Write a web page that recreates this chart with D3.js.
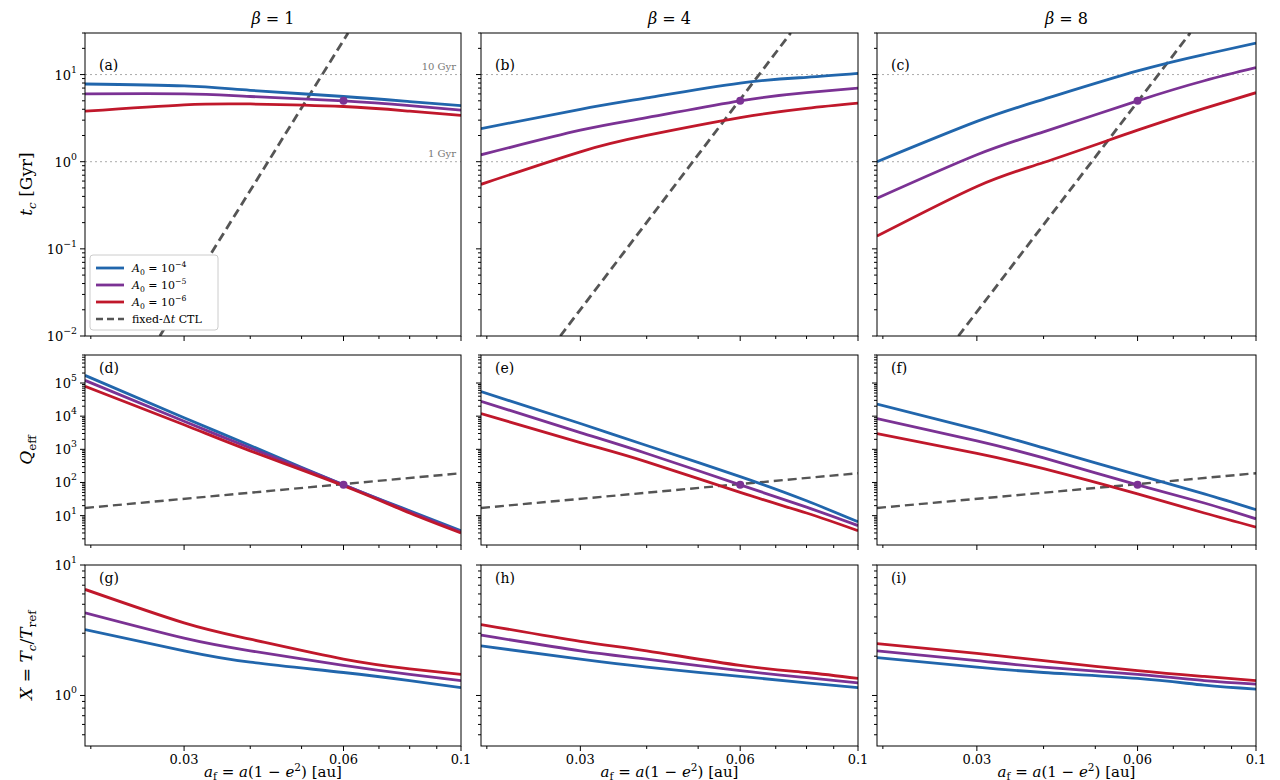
<!DOCTYPE html><html><head><meta charset="utf-8">
<script src="https://cdn.jsdelivr.net/npm/d3@7"></script>
<style>body{margin:0;background:#fff}text{font-family:"DejaVu Serif","Liberation Serif",serif}</style></head><body>
<svg id="c" width="1280" height="780"></svg>
<script>
const xs=[0.0195,0.03,0.04,0.06,0.08,0.1];
const betas=["1","4","8"];
const panelLetters=[["(a)","(b)","(c)"],["(d)","(e)","(f)"],["(g)","(h)","(i)"]];
// row 1: t_c [Gyr]
const tc={blue:[[7.8,7.4,6.6,5.6,4.9,4.4],[2.4,4.0,5.4,8.0,9.3,10.3],[1.0,2.9,5.2,11,17,23]],
 purple:[[6.0,6.0,5.6,5.0,4.4,3.9],[1.2,2.3,3.2,5.0,6.2,7.0],[0.38,1.2,2.2,5.0,8.5,12]],
 red:[[3.8,4.5,4.6,4.3,3.8,3.4],[0.55,1.3,2.0,3.2,4.1,4.7],[0.14,0.52,0.98,2.3,4.1,6.2]]};
const ctlA=[[0.027,0.0612],[0.0275,0.0747],[0.0277,0.0753]];
const ctlT=[0.01,30];
// row 2: Q_eff
const qe={blue:[[1.7e5,9000,1300,85,14,3.5],[5.5e4,6000,1300,150,28,6.5],[2.3e4,4000,1100,170,45,15]],
 purple:[[1.2e5,7000,1100,85,13,3.2],[2.8e4,3200,750,85,18,5],[8500,1800,550,85,24,8]],
 red:[[8e4,5500,900,80,12,3],[1.2e4,1600,420,50,12,3.5],[3000,750,260,45,12,4.5]]};
const ctlQ=[17,190];
// row 3: X = T_c/T_ref
const xr={blue:[[3.2,2.2,1.8,1.5,1.3,1.15],[2.4,1.9,1.65,1.4,1.25,1.15],[1.95,1.65,1.5,1.35,1.2,1.12]],
 purple:[[4.3,2.75,2.2,1.7,1.45,1.3],[2.9,2.2,1.9,1.55,1.37,1.25],[2.2,1.85,1.65,1.45,1.3,1.22]],
 red:[[6.5,3.6,2.7,1.9,1.6,1.45],[3.5,2.6,2.2,1.7,1.5,1.35],[2.5,2.1,1.85,1.55,1.4,1.3]]};
const colors={blue:"#2166ac",purple:"#7b3294",red:"#c0182b"};
const legendLabels=[["blue","−4"],["purple","−5"],["red","−6"]];

const svg=d3.select("#c");
const colX=[[85,461],[481,858],[877,1256]];
const rowY=[[33,336],[355,545],[565,746]];
const yDom=[[0.01,30],[1.3,7e5],[0.41,10]];
const line=(x,y)=>d3.line().x(d=>x(d[0])).y(d=>y(d[1])).curve(d3.curveNatural);
function sup(t,base,exp){t.append("tspan").text(base);t.append("tspan").attr("dy",-7).attr("font-size","0.72em").text(exp);}
for(let r=0;r<3;r++)for(let c=0;c<3;c++){
 const [x0,x1]=colX[c],[y0,y1]=rowY[r];
 const x=d3.scaleLog().domain([0.0195,0.1]).range([x0,x1]);
 const y=d3.scaleLog().domain(yDom[r]).range([y1,y0]);
 const g=svg.append("g");
 const clipId=`cl${r}${c}`;
 g.append("clipPath").attr("id",clipId).append("rect").attr("x",x0).attr("y",y0).attr("width",x1-x0).attr("height",y1-y0);
 const p=g.append("g").attr("clip-path",`url(#${clipId})`);
 const xMaj=[0.03,0.06,0.1], xMin=[0.02,0.04,0.05,0.07,0.08,0.09];
 xMaj.forEach(v=>g.append("line").attr("x1",x(v)).attr("x2",x(v)).attr("y1",y1).attr("y2",y1+5).attr("stroke","#000"));
 xMin.forEach(v=>g.append("line").attr("x1",x(v)).attr("x2",x(v)).attr("y1",y1).attr("y2",y1+3).attr("stroke","#000"));
 if(r==2){xMaj.forEach(v=>g.append("text").attr("x",x(v)).attr("y",y1+18).attr("text-anchor","middle").attr("font-size",13).text(v));
  const t=g.append("text").attr("x",(x0+x1)/2).attr("y",y1+31).attr("text-anchor","middle").attr("font-size",15);
  t.append("tspan").attr("font-style","italic").text("a");t.append("tspan").attr("font-size","0.7em").attr("dy",3).text("f");
  t.append("tspan").attr("dy",-3).text(" = ");t.append("tspan").attr("font-style","italic").text("a");t.append("tspan").text("(1 − ");
  t.append("tspan").attr("font-style","italic").text("e");t.append("tspan").attr("dy",-6).attr("font-size","0.7em").text("2");t.append("tspan").attr("dy",6).text(") [au]");}
 const [lo,hi]=yDom[r];
 for(let e=Math.floor(Math.log10(lo));e<=Math.ceil(Math.log10(hi));e++){
  for(let m=1;m<10;m++){const v=m*Math.pow(10,e); if(v<lo*0.999||v>hi*1.001)continue;
   g.append("line").attr("x1",x0).attr("x2",x0-(m==1?5:3)).attr("y1",y(v)).attr("y2",y(v)).attr("stroke","#000");
   if(m==1&&c==0){const t=g.append("text").attr("x",x0-8).attr("y",y(v)+5).attr("text-anchor","end").attr("font-size",13);sup(t,"10",e<0?"−"+(-e):String(e));}}
 }
 if(r==0){[10,1].forEach(v=>p.append("line").attr("x1",x0).attr("x2",x1).attr("y1",y(v)).attr("y2",y(v)).attr("stroke","#aaa").attr("stroke-dasharray","2,3"));
  if(c==0){g.append("text").attr("x",x1-5).attr("y",y(10)-5).attr("text-anchor","end").attr("font-size",10).attr("fill","#777").text("10 Gyr");
   g.append("text").attr("x",x1-5).attr("y",y(1)-5).attr("text-anchor","end").attr("font-size",10).attr("fill","#777").text("1 Gyr");}
  p.append("path").datum(ctlA[c].map((a,i)=>[a,ctlT[i]])).attr("d",d3.line().x(d=>x(d[0])).y(d=>y(d[1]))).attr("fill","none").attr("stroke","#555").attr("stroke-width",2.8).attr("stroke-dasharray","9,5");
 }
 if(r==1){p.append("path").datum([[0.0195,ctlQ[0]],[0.1,ctlQ[1]]]).attr("d",d3.line().x(d=>x(d[0])).y(d=>y(d[1]))).attr("fill","none").attr("stroke","#555").attr("stroke-width",2.4).attr("stroke-dasharray","9,5");}
 const src=[tc,qe,xr][r];
 ["blue","purple","red"].forEach(k=>p.append("path").datum(xs.map((a,i)=>[a,src[k][c][i]])).attr("d",line(x,y)).attr("fill","none").attr("stroke",colors[k]).attr("stroke-width",2.8));
 if(r<2) p.append("circle").attr("cx",x(0.06)).attr("cy",y(src.purple[c][3])).attr("r",4).attr("fill",colors.purple);
 g.append("rect").attr("x",x0).attr("y",y0).attr("width",x1-x0).attr("height",y1-y0).attr("fill","none").attr("stroke","#000");
 g.append("text").attr("x",x0+14).attr("y",y0+(r==0?37:18)).attr("font-size",14).text(panelLetters[r][c]);
 if(r==0){const t=svg.append("text").attr("x",(x0+x1)/2).attr("y",24).attr("text-anchor","middle").attr("font-size",16);
  t.append("tspan").attr("font-style","italic").text("β");t.append("tspan").text(" = "+betas[c]);}
}
function ylab(yc,build){const t=svg.append("text").attr("transform",`translate(32,${yc}) rotate(-90)`).attr("text-anchor","middle").attr("font-size",17);build(t);}
ylab(184,t=>{t.append("tspan").attr("font-style","italic").text("t");t.append("tspan").attr("font-size","0.7em").attr("dy",4).attr("font-style","italic").text("c");t.append("tspan").attr("dy",-4).text(" [Gyr]");});
ylab(450,t=>{t.append("tspan").attr("font-style","italic").text("Q");t.append("tspan").attr("font-size","0.7em").attr("dy",4).text("eff");});
ylab(655,t=>{t.append("tspan").attr("font-style","italic").text("X");t.append("tspan").text(" = ");t.append("tspan").attr("font-style","italic").text("T");t.append("tspan").attr("font-size","0.7em").attr("dy",4).attr("font-style","italic").text("c");t.append("tspan").attr("dy",-4).text("/");t.append("tspan").attr("font-style","italic").text("T");t.append("tspan").attr("font-size","0.7em").attr("dy",4).text("ref");});
const lg=svg.append("g");
lg.append("rect").attr("x",90).attr("y",255).attr("width",128).attr("height",75).attr("rx",3).attr("fill","#fff").attr("stroke","#ccc");
legendLabels.forEach(([k,e],i)=>{const yy=268+i*17;
 lg.append("line").attr("x1",96).attr("x2",124).attr("y1",yy).attr("y2",yy).attr("stroke",colors[k]).attr("stroke-width",2.8);
 const t=lg.append("text").attr("x",132).attr("y",yy+4).attr("font-size",11);
 t.append("tspan").attr("font-style","italic").text("A");t.append("tspan").attr("font-size","0.7em").attr("dy",3).text("0");t.append("tspan").attr("dy",-3).text(" = 10");t.append("tspan").attr("font-size","0.7em").attr("dy",-5).text(e);});
lg.append("line").attr("x1",96).attr("x2",124).attr("y1",319).attr("y2",319).attr("stroke","#555").attr("stroke-width",2.4).attr("stroke-dasharray","7,4");
const tt=lg.append("text").attr("x",132).attr("y",323).attr("font-size",11);tt.append("tspan").text("fixed-Δ");tt.append("tspan").attr("font-style","italic").text("t");tt.append("tspan").text(" CTL");
</script></body></html>
